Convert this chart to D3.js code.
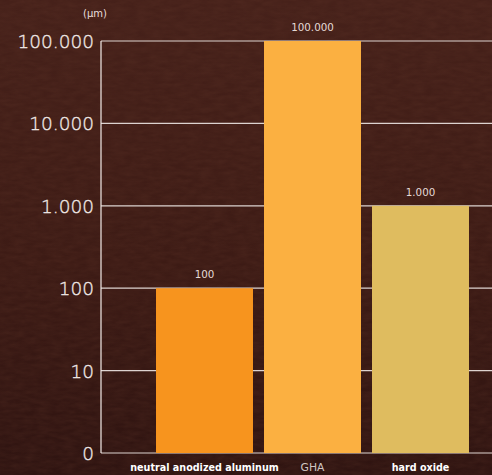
<!DOCTYPE html>
<html><head><meta charset="utf-8">
<script src="https://cdn.jsdelivr.net/npm/d3@7/dist/d3.min.js"></script>
<style>
html,body{margin:0;padding:0;background:#3d1b15;}
svg{display:block;}
</style></head>
<body>
<svg id="chart" width="492" height="475"></svg>
<script>
const categories = ["neutral anodized aluminum", "GHA", "hard oxide"];
const values = [100, 100000, 1000];
const valueLabels = ["100", "100.000", "1.000"];
const barColors = ["#F7941E", "#FBB041", "#DFBC5F"];
const tickValues = [1, 10, 100, 1000, 10000, 100000];
const tickLabels = ["0", "10", "100", "1.000", "10.000", "100.000"];
const unitLabel = "(µm)";
const labelBold = [true, false, true];

const W = 492, H = 475;
const svg = d3.select("#chart");
const defs = svg.append("defs");
const grad = defs.append("linearGradient").attr("id","bg").attr("x1",0).attr("y1",0).attr("x2",0).attr("y2",1);
grad.append("stop").attr("offset","0%").attr("stop-color","#46211a");
grad.append("stop").attr("offset","55%").attr("stop-color","#3d1b15");
grad.append("stop").attr("offset","100%").attr("stop-color","#2f1411");
const f = defs.append("filter").attr("id","noise").attr("x",0).attr("y",0).attr("width","100%").attr("height","100%");
f.append("feTurbulence").attr("type","fractalNoise").attr("baseFrequency","0.08 0.25").attr("numOctaves",3).attr("seed",4).attr("result","t");
f.append("feColorMatrix").attr("in","t").attr("type","matrix")
  .attr("values","0 0 0 0 0.15  0 0 0 0 0.05  0 0 0 0 0.03  0 0 0 0.5 -0.1");
svg.append("rect").attr("width",W).attr("height",H).attr("fill","url(#bg)");
svg.append("rect").attr("width",W).attr("height",H).attr("filter","url(#noise)").attr("opacity",0.6);

const x0 = 101, yTop = 41, yBot = 453;
const y = d3.scaleLog().domain([1, 100000]).range([yBot, yTop]);
const x = d3.scaleBand().domain(categories).range([150.5, 474.5]).paddingInner(0.102).paddingOuter(0.051);

const font = "'DejaVu Sans', sans-serif";

// gridlines
const grid = svg.append("g");
grid.selectAll("line").data(tickValues).join("line")
  .attr("x1", x0).attr("x2", W)
  .attr("y1", d => y(d)).attr("y2", d => y(d))
  .attr("stroke", "#ddd3d0").attr("stroke-width", 1.2);

// bars
svg.append("g").selectAll("rect").data(categories).join("rect")
  .attr("x", d => x(d)).attr("width", x.bandwidth())
  .attr("y", (d,i) => y(values[i])).attr("height", (d,i) => y(1) - y(values[i]))
  .attr("fill", (d,i) => barColors[i]);

// y axis line
svg.append("line").attr("x1", x0).attr("x2", x0).attr("y1", yTop).attr("y2", yBot)
  .attr("stroke", "#f3ece9").attr("stroke-width", 1.2);

// y axis
const yAxis = d3.axisLeft(y).tickValues(tickValues).tickFormat((d,i) => tickLabels[i]).tickSize(0).tickPadding(7);
const ga = svg.append("g").attr("transform", `translate(${x0},0)`).call(yAxis);
ga.select(".domain").remove();
ga.selectAll("text").attr("font-family", font).attr("font-size", 18.5).attr("font-weight", 300)
  .attr("fill", "#efe7e4").attr("stroke", "#efe7e4").attr("stroke-width", 0.35).attr("dy", "0.35em");

// unit label
svg.append("text").attr("x", 95).attr("y", 17).attr("text-anchor","middle")
  .attr("font-family", font).attr("font-size", 10).attr("fill", "#e8dedb").text(unitLabel);

// value labels
svg.append("g").selectAll("text").data(categories).join("text")
  .attr("x", d => x(d) + x.bandwidth()/2)
  .attr("y", (d,i) => y(values[i]) - 10)
  .attr("text-anchor","middle").attr("font-family", font).attr("font-size", 10.3)
  .attr("fill", "#e4d9d6").text((d,i) => valueLabels[i]);

// category labels
svg.append("g").selectAll("text").data(categories).join("text")
  .attr("x", d => x(d) + x.bandwidth()/2)
  .attr("y", 471)
  .attr("text-anchor","middle").attr("font-family", font)
  .attr("font-size", (d,i) => labelBold[i] ? 9.6 : 10.8)
  .attr("font-weight", (d,i) => labelBold[i] ? 700 : 400)
  .attr("fill", (d,i) => labelBold[i] ? "#ffffff" : "#cfc5c2")
  .text(d => d);
</script>
</body></html>
